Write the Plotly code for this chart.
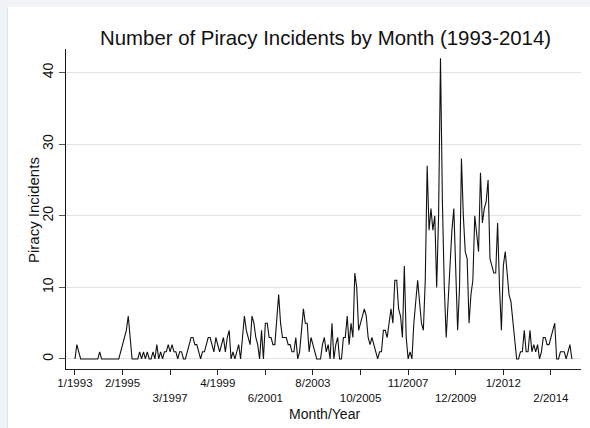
import plotly.graph_objects as go

# Monthly piracy incident counts, January 1993 onward
incidents = [
    0, 2, 1, 0, 0, 0, 0, 0, 0, 0, 0, 0, 0, 1, 0, 0, 0, 0, 0, 0,
    0, 0, 0, 0, 1, 2, 3, 4, 6, 3, 0, 0, 0, 0, 1, 0, 1, 0, 1, 0,
    0, 1, 0, 2, 0, 1, 0, 1, 1, 2, 1, 2, 1, 1, 0, 1, 1, 0, 0, 1,
    2, 3, 3, 2, 2, 1, 0, 1, 1, 2, 3, 3, 2, 1, 3, 2, 1, 2, 3, 1,
    3, 4, 0, 1, 0, 1, 2, 0, 3, 6, 4, 3, 2, 6, 5, 3, 2, 0, 4, 0,
    5, 5, 3, 3, 2, 2, 5, 9, 5, 3, 3, 3, 2, 2, 1, 1, 3, 0, 1, 4,
    7, 5, 5, 1, 3, 2, 1, 0, 0, 0, 2, 3, 1, 2, 0, 5, 0, 2, 3, 0,
    0, 3, 3, 6, 2, 5, 3, 12, 10, 4, 5, 6, 7, 6, 3, 2, 3, 2, 1, 0,
    1, 1, 4, 4, 3, 5, 7, 5, 11, 11, 7, 6, 3, 13, 3, 0, 1, 0, 5, 8,
    11, 8, 5, 4, 11, 27, 18, 21, 18, 20, 10, 20, 42, 22, 10, 3, 8, 13, 18, 21,
    13, 4, 10, 28, 20, 15, 14, 5, 9, 11, 20, 17, 15, 26, 19, 21, 22, 25, 14, 13,
    12, 12, 19, 10, 4, 13, 15, 12, 9, 8, 5, 2, 0, 0, 1, 1, 4, 1, 1, 4,
    1, 2, 1, 2, 0, 1, 3, 3, 2, 2, 3, 4, 5, 0, 0, 1, 1, 1, 0, 1,
    2, 0,
]
months = list(range(len(incidents)))

# Labelled months along the time axis (every 25th observation)
tick_months = [0, 25, 50, 75, 100, 125, 150, 175, 200, 225, 250]
tick_labels = ["1/1993", "2/1995", "3/1997", "4/1999", "6/2001", "8/2003",
               "10/2005", "11/2007", "12/2009", "1/2012", "2/2014"]
# Row of each label: 0 = first row, 1 = dropped to the second row
tick_rows = [0, 0, 1, 0, 1, 0, 1, 0, 1, 0, 1]
tick_text = [("<br>" if row else "") + lab for lab, row in zip(tick_labels, tick_rows)]

y_ticks = [0, 10, 20, 30, 40]

W, H = 590, 428
L, R, T, B = 66, 9, 49, 59
PW, PH = W - L - R, H - T - B


def px_x(x):
    return (x - L) / PW


def px_y(y):
    return (H - B - y) / PH


fig = go.Figure()
fig.add_trace(go.Scatter(
    x=months, y=incidents, mode="lines",
    line=dict(color="#111111", width=1.1),
    hoverinfo="x+y", showlegend=False,
))

font_family = "Liberation Sans, Arial, sans-serif"

fig.update_layout(
    width=W, height=H,
    margin=dict(l=L, r=R, t=T, b=B, pad=0),
    paper_bgcolor="white", plot_bgcolor="white",
    font=dict(family=font_family, color="#111111"),
    xaxis=dict(
        range=[-4.7, 265.8], showgrid=False, zeroline=False,
        showline=True, linecolor="#222222", linewidth=1,
        ticks="outside", ticklen=5, tickcolor="#222222",
        tickvals=tick_months, ticktext=tick_text, ticklabelstandoff=-2,
        tickfont=dict(size=11.5, family=font_family, color="#111111"),
    ),
    yaxis=dict(
        range=[-1.4, 43.3], showgrid=True, gridcolor="#e3e3e3", gridwidth=1,
        zeroline=False, showline=True, linecolor="#111111", linewidth=1,
        ticks="outside", ticklen=6, tickcolor="#555555",
        tickvals=y_ticks, tickangle=-90,
        tickfont=dict(size=14, family=font_family, color="#111111"),
    ),
    annotations=[
        dict(text="Number of Piracy Incidents by Month (1993-2014)",
             xref="paper", yref="paper", x=px_x(325.5), y=px_y(38),
             xanchor="center", yanchor="middle", showarrow=False,
             font=dict(size=20.4, family=font_family, color="#111111")),
        dict(text="Piracy Incidents", textangle=-90,
             xref="paper", yref="paper", x=px_x(33), y=px_y(210),
             xanchor="center", yanchor="middle", showarrow=False,
             font=dict(size=15, family=font_family, color="#111111")),
        dict(text="Month/Year",
             xref="paper", yref="paper", x=px_x(324), y=px_y(414),
             xanchor="center", yanchor="middle", showarrow=False,
             font=dict(size=14, family=font_family, color="#111111")),
    ],
    shapes=[
        # thin window frame along the top and left edges
        dict(type="rect", xref="paper", yref="paper",
             x0=px_x(0), x1=px_x(W), y0=px_y(0), y1=px_y(7),
             fillcolor="#f1f4f7", line=dict(width=0), layer="below"),
        dict(type="rect", xref="paper", yref="paper",
             x0=px_x(0), x1=px_x(7), y0=px_y(0), y1=px_y(H),
             fillcolor="#f1f4f7", line=dict(width=0), layer="below"),
        dict(type="line", xref="paper", yref="paper",
             x0=px_x(7.5), x1=px_x(7.5), y0=px_y(7), y1=px_y(H),
             line=dict(color="#dfe3e8", width=1), layer="below"),
    ],
)

fig.write_html("out.html")
